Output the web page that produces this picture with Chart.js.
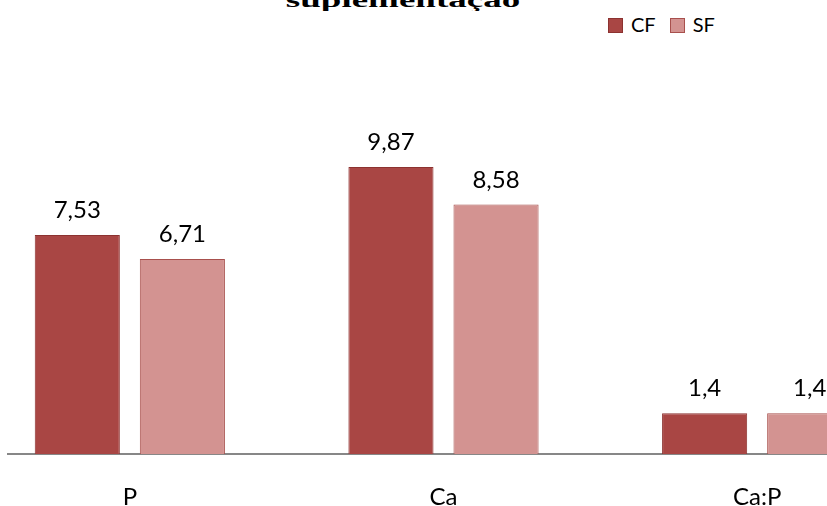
<!DOCTYPE html>
<html>
<head>
<meta charset="utf-8">
<script src="https://cdn.jsdelivr.net/npm/chart.js@4"></script>
<style>
  body { margin: 0; background: #fff; width: 827px; height: 506px; overflow: hidden; position: relative; }
  #title { position: absolute; left: 0; width: 806px; top: -29px; text-align: center;
           font: bold 37px "Liberation Serif", serif; color: #000; transform: scaleY(0.55); transform-origin: 50% 100%; height: 40px; line-height: 40px; }
  #legend { position: absolute; left: 608px; top: 12px; font: 20px Lato, sans-serif; color: #000; }
  #legend span.item { display: inline-block; margin-right: 14px; }
  #legend span.box { display: inline-block; width: 13px; height: 13px; margin-right: 8px; vertical-align: -1px; border: 1px solid; }
  #clip { position: absolute; left: 7px; top: 0; width: 820px; height: 506px; overflow: hidden; }
  #wrap { position: absolute; left: -34px; top: 0; width: 941px; height: 506px; }
</style>
</head>
<body>
<div id="title">suplementação</div>
<div id="legend"></div>
<div id="clip"><div id="wrap"><canvas id="canvas"></canvas></div></div>
<script>
// categories and values
let categories = ['P', 'Ca', 'Ca:P'];
let cf = [7.53, 9.87, 1.4];
let sf = [6.71, 8.58, 1.4];
let seriesNames = ['CF', 'SF'];

let fills = ['#A94644', '#D39391'];
let borders = ['#8C3230', '#A8504D'];

// writes the value above each bar, with a decimal comma like the original
let valueLabels = {
  id: 'valueLabels',
  afterDatasetsDraw(chart) {
    let ctx = chart.ctx;
    ctx.save();
    ctx.font = '24px Lato, sans-serif';
    ctx.fillStyle = '#000';
    ctx.textAlign = 'center';
    ctx.textBaseline = 'alphabetic';
    chart.data.datasets.forEach((ds, i) => {
      chart.getDatasetMeta(i).data.forEach((bar, j) => {
        let txt = String(ds.data[j]).replace('.', ',');
        ctx.fillText(txt, bar.x, bar.y - 17);
      });
    });
    ctx.restore();
  }
};

let options = {
  type: 'bar',
  data: {
    labels: categories,
    datasets: [
      { label: seriesNames[0], data: cf, backgroundColor: fills[0], borderColor: borders[0], borderWidth: 1 },
      { label: seriesNames[1], data: sf, backgroundColor: fills[1], borderColor: borders[1], borderWidth: 1 }
    ]
  },
  options: {
    responsive: true,
    maintainAspectRatio: false,
    animation: false,
    categoryPercentage: 0.67,
    barPercentage: 0.81,
    layout: { padding: { top: 47, left: 0, right: 0, bottom: 0 } },
    plugins: {
      legend: { display: false },
      title: { display: false },
      tooltip: { enabled: false }
    },
    scales: {
      y: { display: false, min: 0, max: 14 },
      x: {
        grid: { display: false, drawTicks: false },
        border: { display: true, color: '#878787', width: 2 },
        ticks: { color: '#000', font: { family: 'Lato', size: 24 }, padding: 29 },
        afterFit(scale) { scale.height = 52; }
      }
    }
  },
  plugins: [valueLabels]
};

let chart = new Chart(document.getElementById('canvas'), options);

// simple html legend built from the datasets
let legend = document.getElementById('legend');
chart.data.datasets.forEach(ds => {
  let item = document.createElement('span');
  item.className = 'item';
  item.innerHTML = '<span class="box" style="background:' + ds.backgroundColor + ';border-color:' + ds.borderColor + '"></span>' + ds.label;
  legend.appendChild(item);
});
</script>
</body>
</html>
